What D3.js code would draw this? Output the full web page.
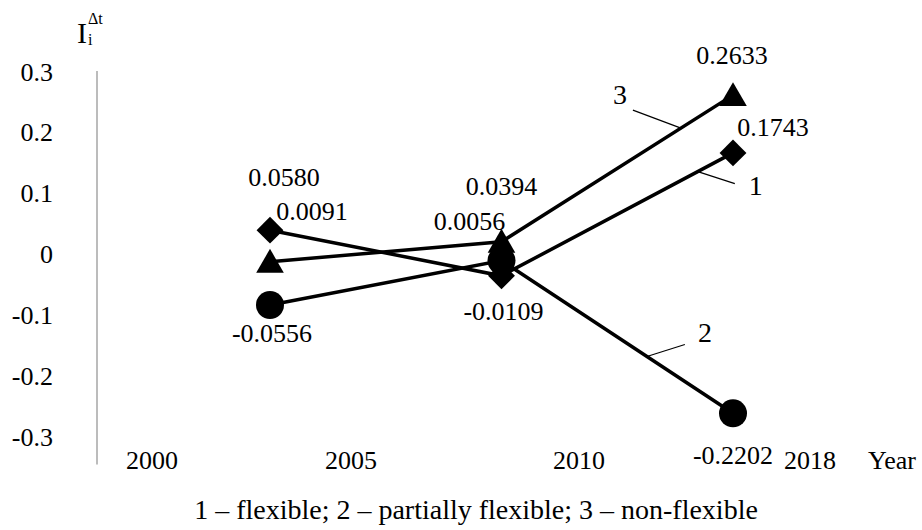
<!DOCTYPE html>
<html><head><meta charset="utf-8">
<script src="https://cdn.jsdelivr.net/npm/d3@7"></script>
<style>
html,body{margin:0;padding:0;background:#fff;}
svg text{font-family:"Liberation Serif","Times New Roman",serif;fill:#000;}
</style></head>
<body><svg id="chart" width="922" height="530"></svg>
<script>
// ---- data ----
const periods = ["2000–2005", "2005–2010", "2010–2018"];
const yearTicks = [2000, 2005, 2010, 2018];
const yTicks = [0.3, 0.2, 0.1, 0, -0.1, -0.2, -0.3];
const seriesNames = ["1", "2", "3"];
const legendText = "1 – flexible; 2 – partially flexible; 3 – non-flexible";
// plotted positions
const flexible = [0.040, -0.035, 0.167];
const partiallyFlexible = [-0.083, -0.010, -0.261];
const nonFlexible = [-0.012, 0.021, 0.262];
// printed data labels
const flexibleLabels = ["0.0580", "-0.0109", "0.1743"];
const partiallyLabels = ["-0.0556", "0.0056", "-0.2202"];
const nonFlexibleLabels = ["0.0091", "0.0394", "0.2633"];

// ---- layout / style ----
const svg = d3.select("#chart");
const y = d3.scaleLinear().domain([-0.3, 0.3]).range([437, 72]);
const x = d3.scalePoint().domain(periods).range([270, 733]);
const xYear = d3.scaleLinear().domain(yearTicks).range([152, 351, 579, 810]);
const axisX = 97;
const fmt = d => d === 0 ? "0" : d3.format(".1f")(d).replace("−", "-");

const series = [
  {name: seriesNames[0], values: flexible, labels: flexibleLabels, shape: "diamond",
   labelOff: [[14, -53], [2, 36], [40, -25]],
   leader: {seg: 1, t: 0.848, dx: 37, dy: 12, lx: 58, ly: 14}},
  {name: seriesNames[1], values: partiallyFlexible, labels: partiallyLabels, shape: "circle",
   labelOff: [[2, 28], [-32, -39], [0, 42]],
   leader: {seg: 1, t: 0.628, dx: 38, dy: -12, lx: 58, ly: -24}},
  {name: seriesNames[2], values: nonFlexible, labels: nonFlexibleLabels, shape: "triangle",
   labelOff: [[42, -50], [0, -55], [-1, -40]],
   leader: {seg: 1, t: 0.775, dx: -48, dy: -18, lx: -61, ly: -33}}
];

// y axis line (gray)
svg.append("line")
  .attr("x1", axisX).attr("x2", axisX)
  .attr("y1", y(0.3) - 1).attr("y2", y(-0.345))
  .attr("stroke", "#a6a6a6").attr("stroke-width", 1.5);

// y tick labels
svg.append("g").selectAll("text").data(yTicks).join("text")
  .attr("x", 53).attr("y", d => y(d))
  .attr("dy", "0.33em")
  .attr("text-anchor", "end")
  .attr("font-size", 26)
  .text(fmt);

// year labels
svg.append("g").selectAll("text").data(yearTicks).join("text")
  .attr("x", d => xYear(d)).attr("y", 460).attr("dy", "0.33em")
  .attr("text-anchor", "middle").attr("font-size", 26)
  .text(d => d);
svg.append("text").attr("x", 868).attr("y", 460).attr("dy", "0.33em")
  .attr("font-size", 26).text("Year");

// axis title I_i^Δt
svg.append("text").attr("x", 77).attr("y", 43).attr("font-size", 30).text("I");
svg.append("text").attr("x", 88).attr("y", 45).attr("font-size", 16).text("i");
svg.append("text").attr("x", 88).attr("y", 24).attr("font-size", 16).text("Δt");

// lines
const line = d3.line().x((d, i) => x(periods[i])).y(d => y(d));
svg.append("g").selectAll("path").data(series).join("path")
  .attr("d", s => line(s.values))
  .attr("fill", "none").attr("stroke", "#000").attr("stroke-width", 3.5);

// leader lines + series numbers
series.forEach(s => {
  const L = s.leader;
  const x0 = x(periods[L.seg]), x1 = x(periods[L.seg + 1]);
  const y0 = y(s.values[L.seg]), y1 = y(s.values[L.seg + 1]);
  const ax = x0 + (x1 - x0) * L.t, ay = y0 + (y1 - y0) * L.t;
  svg.append("line").attr("x1", ax).attr("y1", ay)
    .attr("x2", ax + L.dx).attr("y2", ay + L.dy)
    .attr("stroke", "#000").attr("stroke-width", 1.2);
  svg.append("text").attr("x", ax + L.lx).attr("y", ay + L.ly).attr("dy", "0.33em")
    .attr("text-anchor", "middle").attr("font-size", 28).text(s.name);
});

// markers (circle, diamond, triangle order)
const symbols = {
  circle: d3.symbol().type(d3.symbolCircle).size(Math.PI * 14 * 14),
  diamond: d3.symbol().type(d3.symbolSquare).size(19 * 19),
  triangle: d3.symbol().type(d3.symbolTriangle).size(330)
};
[1, 0, 2].forEach(k => {
  const s = series[k];
  svg.append("g").selectAll("path").data(s.values).join("path")
    .attr("transform", (d, i) => {
      let tr = `translate(${x(periods[i])},${y(d)})`;
      if (s.shape === "diamond") tr += " rotate(45)";
      if (s.shape === "triangle") tr += " translate(0,3)";
      return tr;
    })
    .attr("d", symbols[s.shape]())
    .attr("fill", "#000");
});

// data labels
series.forEach(s => {
  svg.append("g").selectAll("text").data(s.values).join("text")
    .attr("x", (d, i) => x(periods[i]) + s.labelOff[i][0])
    .attr("y", (d, i) => y(d) + s.labelOff[i][1])
    .attr("dy", "0.33em").attr("text-anchor", "middle").attr("font-size", 26)
    .text((d, i) => s.labels[i]);
});

// legend caption
svg.append("text").attr("x", 476).attr("y", 519)
  .attr("text-anchor", "middle").attr("font-size", 28).text(legendText);
</script></body></html>
